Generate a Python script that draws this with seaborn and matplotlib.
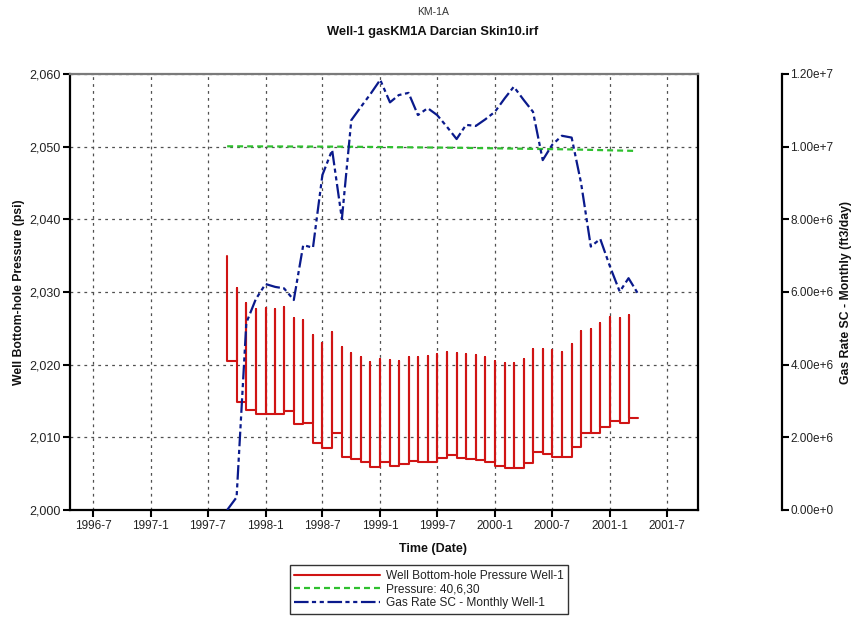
import matplotlib
matplotlib.use("Agg")
import matplotlib.pyplot as plt
import matplotlib.ticker as mticker
import seaborn as sns
import pandas as pd
import numpy as np

# ---------------- data ----------------
month_starts = pd.date_range("1997-09-01", "2001-03-01", freq="MS")   # 43 monthly events
end_date = pd.Timestamp("2001-04-01")

bhp_peak = [2034.95, 2030.51, 2028.48, 2027.62, 2027.76, 2027.62, 2027.89, 2026.38, 2026.15, 2024.08,
            2022.94, 2024.54, 2022.39, 2021.56, 2021.01, 2020.33, 2020.78, 2020.64, 2020.50, 2021.01,
            2021.01, 2021.19, 2021.47, 2021.79, 2021.56, 2021.47, 2021.33, 2021.01, 2020.50, 2020.19,
            2020.19, 2020.74, 2022.11, 2022.11, 2022.02, 2021.70, 2022.80, 2024.68, 2024.91, 2025.69,
            2026.51, 2026.38, 2026.83]
bhp_low = [2020.50, 2014.90, 2013.76, 2013.21, 2013.21, 2013.21, 2013.66, 2011.83, 2011.93, 2009.26,
           2008.49, 2010.64, 2007.33, 2007.02, 2006.56, 2005.88, 2006.56, 2006.10, 2006.29, 2006.79,
           2006.60, 2006.65, 2007.20, 2007.57, 2007.11, 2006.97, 2006.88, 2006.56, 2006.10, 2005.73,
           2005.83, 2006.51, 2007.94, 2007.71, 2007.25, 2007.34, 2008.71, 2010.64, 2010.55, 2011.47,
           2012.29, 2011.93, 2012.61]

gas_dates = pd.date_range("1997-09-01", "2001-04-01", freq="MS")     # 44 monthly points
gas_rate = [0.00e6, 0.35e6, 5.15e6, 5.80e6, 6.22e6, 6.14e6, 6.10e6, 5.78e6, 7.29e6, 7.22e6,
            9.22e6, 9.91e6, 8.01e6, 10.73e6, 11.10e6, 11.45e6, 11.84e6, 11.22e6, 11.42e6, 11.48e6,
            10.87e6, 11.06e6, 10.87e6, 10.55e6, 10.21e6, 10.60e6, 10.57e6, 10.75e6, 10.96e6, 11.33e6,
            11.65e6, 11.29e6, 10.96e6, 9.63e6, 10.05e6, 10.30e6, 10.25e6, 9.00e6, 7.25e6, 7.46e6,
            6.70e6, 6.01e6, 6.38e6, 5.94e6]

ref_dates = pd.to_datetime(["1997-09-01", "1998-09-01", "1999-09-01", "2000-09-01", "2001-03-20"])
ref_pressure = [2050.05, 2050.00, 2049.85, 2049.62, 2049.42]

xtick_dates = pd.to_datetime(["1996-07-01", "1997-01-01", "1997-07-01", "1998-01-01", "1998-07-01",
                              "1999-01-01", "1999-07-01", "2000-01-01", "2000-07-01", "2001-01-01",
                              "2001-07-01"])
xtick_labels = ["1996-7", "1997-1", "1997-7", "1998-1", "1998-7", "1999-1", "1999-7",
                "2000-1", "2000-7", "2001-1", "2001-7"]
left_ticks = [2000, 2010, 2020, 2030, 2040, 2050, 2060]
right_ticks = [0, 2e6, 4e6, 6e6, 8e6, 1e7, 1.2e7]

title_top = "KM-1A"
title_main = "Well-1 gasKM1A Darcian Skin10.irf"
series_names = ["Well Bottom-hole Pressure Well-1", "Pressure: 40,6,30", "Gas Rate SC - Monthly Well-1"]

# ---------------- style ----------------
sns.set_style("ticks")
plt.rcParams["font.family"] = ["Liberation Sans", "DejaVu Sans"]
plt.rcParams["lines.scale_dashes"] = False

W, H = 856, 623
fig = plt.figure(figsize=(W / 100, H / 100), dpi=100)
ax = fig.add_axes([70 / W, 1 - 510 / H, (698 - 70) / W, (510 - 74) / H])
ax2 = ax.twinx()

# build the step/spike path of the bottom-hole pressure
bx, by = [], []
for i, m in enumerate(month_starts):
    if i > 0:
        bx.append(m)
        by.append(bhp_low[i - 1])
    bx += [m, m]
    by += [bhp_peak[i], bhp_low[i]]
bx.append(end_date)
by.append(bhp_low[-1])
bhp_df = pd.DataFrame({"t": bx, "p": by})

sns.lineplot(data=bhp_df, x="t", y="p", ax=ax, sort=False, estimator=None,
             color="#d01414", lw=1.5, legend=False)
l_red = ax.lines[-1]
sns.lineplot(x=ref_dates, y=ref_pressure, ax=ax, sort=False, estimator=None,
             color="#2ec02e", lw=1.6, legend=False)
l_green = ax.lines[-1]
l_green.set_dashes([4.3, 2.9])

sns.lineplot(x=gas_dates, y=gas_rate, ax=ax2, sort=False, estimator=None,
             color="#0a1a8c", lw=1.6, legend=False)
l_blue = ax2.lines[-1]
l_blue.set_dashes([10.5, 2.4, 3.0, 2.6, 3.0, 2.6])

# ---------------- axes ----------------
xmin = pd.Timestamp("1996-04-19")
xmax = pd.Timestamp("2001-10-08")
ax.set_xlim(xmin, xmax)
ax.set_ylim(2000, 2060)
ax2.set_ylim(0, 1.2e7)

ax.set_xticks(xtick_dates)
ax.set_xticklabels(xtick_labels)
ax.set_yticks(left_ticks)
ax.yaxis.set_major_formatter(mticker.FuncFormatter(lambda v, p: f"{v:,.0f}"))
ax2.set_yticks(right_ticks)


def sci(v, p):
    if v == 0:
        return "0.00e+0"
    e = int(np.floor(np.log10(abs(v))))
    return f"{v / 10 ** e:.2f}e+{e}"


ax2.yaxis.set_major_formatter(mticker.FuncFormatter(sci))

ax.set_xlabel("")
ax.set_ylabel("")
ax2.set_xlabel("")
ax2.set_ylabel("")

ax.grid(True, color="#505050", ls=(0, (2, 3)), lw=0.9)
ax.set_axisbelow(True)

for s in ["left", "bottom", "right"]:
    ax.spines[s].set_color("black")
    ax.spines[s].set_linewidth(1.6)
ax.spines["top"].set_color("#7a7a7a")
ax.spines["top"].set_linewidth(1.6)
ax.spines["top"].set_visible(True)
ax.spines["right"].set_visible(True)

for s in ["left", "bottom", "top"]:
    ax2.spines[s].set_visible(False)
ax2.spines["right"].set_position(("outward", 84 * 0.72))
ax2.spines["right"].set_color("black")
ax2.spines["right"].set_linewidth(1.6)

ax.tick_params(axis="both", direction="out", length=5, width=1.5, colors="black",
               labelsize=8.5, pad=2)
ax.tick_params(axis="y", right=False, labelsize=9)
ax2.tick_params(axis="y", direction="out", length=5, width=1.5, colors="black",
                labelsize=8.5, pad=1)

for t in ax.get_xticklabels() + ax.get_yticklabels() + ax2.get_yticklabels():
    t.set_color("#222222")

# ---------------- texts ----------------
fig.text(433 / W, 1 - 12 / H, title_top, ha="center", va="center", fontsize=7.5, color="#333333")
fig.text(433 / W, 1 - 32 / H, title_main, ha="center", va="center", fontsize=9.3,
         fontweight="bold", color="#111111")
fig.text(433 / W, 1 - 549 / H, "Time (Date)", ha="center", va="center", fontsize=9,
         fontweight="bold", color="#111111")
fig.text(19 / W, 1 - 292 / H, "Well Bottom-hole Pressure (psi)", ha="center", va="center",
         rotation=90, fontsize=8.8, fontweight="bold", color="#111111")
fig.text(846 / W, 1 - 292 / H, "Gas Rate SC - Monthly (ft3/day)", ha="center", va="center",
         rotation=90, fontsize=8.8, fontweight="bold", color="#111111")

leg = fig.legend([l_red, l_green, l_blue], series_names, loc="center",
                 bbox_to_anchor=(429 / W, 1 - 589.5 / H), fontsize=8.6, frameon=True,
                 fancybox=False, edgecolor="black", handlelength=7.2, handletextpad=0.45,
                 labelspacing=0.15, borderpad=0.4, borderaxespad=0)
leg.get_frame().set_linewidth(1.0)
for t in leg.get_texts():
    t.set_color("#222222")

fig.savefig("out.png", dpi=100)
